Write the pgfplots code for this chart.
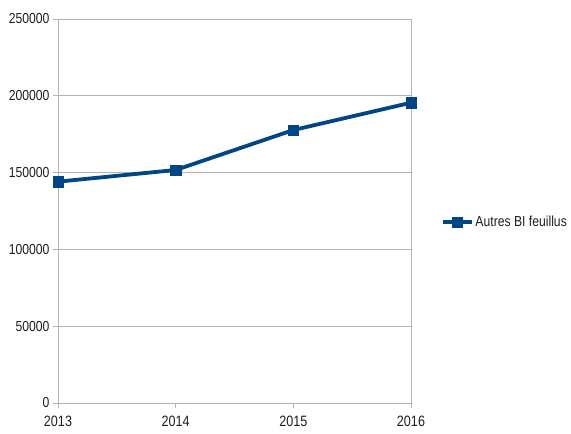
\documentclass[border=0pt]{standalone}
\usepackage{fontspec}
\setmainfont{Liberation Sans}
\newfontfamily\narrowfont[FakeStretch=0.84]{Liberation Sans}
\usepackage{pgfplots}
\pgfplotsset{compat=1.18}
\definecolor{lineblue}{RGB}{0,69,134}
\definecolor{gridgray}{RGB}{179,179,179}
\definecolor{labelgray}{RGB}{30,30,30}
\begin{document}
\begin{tikzpicture}
\useasboundingbox (-58pt,-31pt) rectangle (513pt,403pt);
\begin{axis}[
  at={(0,0)}, anchor=south west,
  scale only axis,
  width=353pt, height=384pt,
  xmin=2013, xmax=2016,
  ymin=0, ymax=250000,
  xtick={2013,2014,2015,2016},
  ytick={0,50000,100000,150000,200000,250000},
  xtick pos=bottom, ytick pos=left,
  scaled y ticks=false,
  /pgf/number format/assume math mode=true,
  xticklabel style={/pgf/number format/1000 sep={}, font=\narrowfont\fontsize{15}{17}\selectfont, text=labelgray, yshift=-4pt},
  yticklabel style={/pgf/number format/fixed, /pgf/number format/1000 sep={}, font=\narrowfont\fontsize{14.5}{16}\selectfont, text=labelgray},
  tick align=outside,
  major tick length=5pt,
  tick style={gridgray, line width=0.8pt},
  axis line style={gridgray, line width=0.8pt},
  ymajorgrids=true,
  major grid style={gridgray, line width=0.8pt},
  legend style={at={(1.075,0.471)}, anchor=west, draw=none, fill=none,
    font=\narrowfont\fontsize{14.5}{16}\selectfont, text=labelgray},
  legend cell align=left,
  legend image code/.code={
    \draw[mark repeat=2, mark phase=2, #1] plot coordinates {(0pt,0pt) (14.5pt,0pt) (29pt,0pt)};
  },
  clip=false,
]
\addplot[color=lineblue, line width=3.8pt, mark=square*, mark size=5.2pt,
  mark options={line width=0.5pt, fill=lineblue}]
  coordinates {(2013,144100) (2014,151700) (2015,177700) (2016,195500)};
\addlegendentry{Autres BI feuillus}
\end{axis}
\end{tikzpicture}
\end{document}
